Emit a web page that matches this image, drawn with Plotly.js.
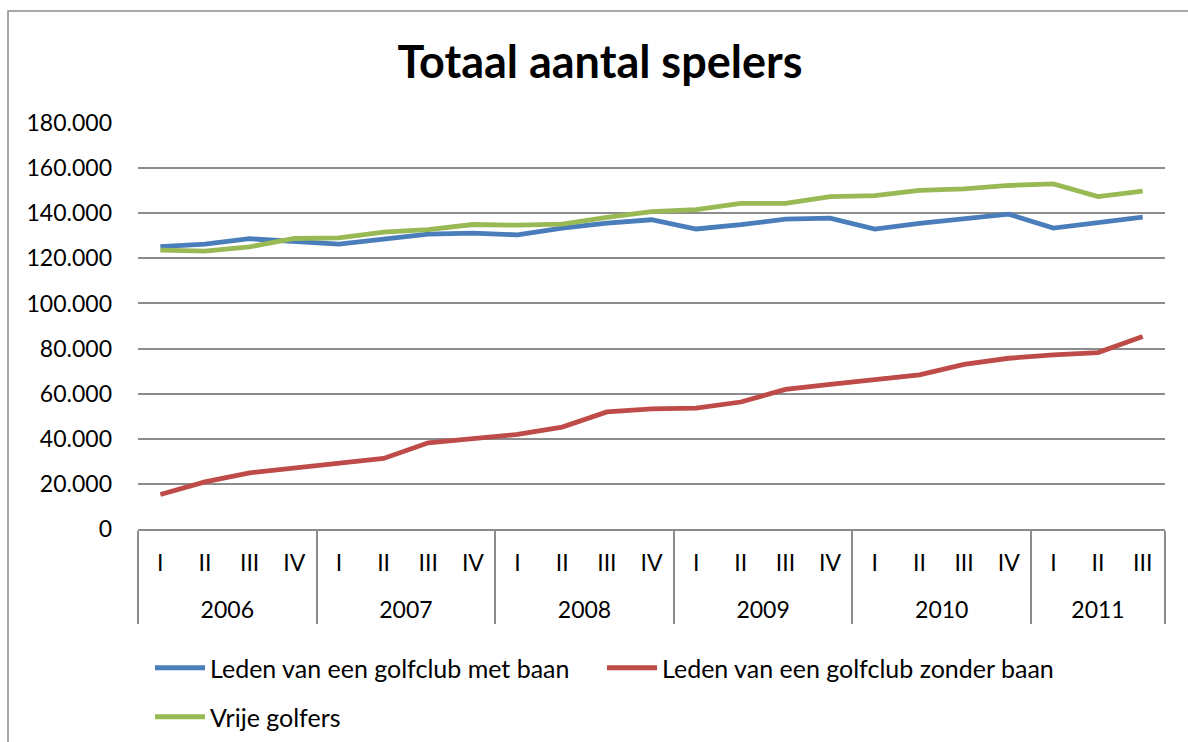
<!DOCTYPE html>
<html>
<head>
<meta charset="utf-8">
<script src="https://cdn.plot.ly/plotly-3.0.1.min.js"></script>
<style>
  html, body { margin: 0; padding: 0; background: #fff; }
  #chart { width: 1188px; height: 742px; }
</style>
</head>
<body>
<div id="chart"></div>
<script>
const years = ['2006','2006','2006','2006','2007','2007','2007','2007','2008','2008','2008','2008',
               '2009','2009','2009','2009','2010','2010','2010','2010','2011','2011','2011'];
const quarters = ['I','II','III','IV','I','II','III','IV','I','II','III','IV',
                  'I','II','III','IV','I','II','III','IV','I','II','III'];

const metBaan = [125200, 126300, 128700, 127300, 126300, 128500, 130700, 131200, 130400, 133400, 135600, 137100,
                 133000, 134900, 137400, 137800, 133000, 135500, 137800, 139600, 133400, 135600, 138300];
const zonderBaan = [15300, 20900, 24900, 27100, 29000, 31300, 38200, 40000, 41900, 45200, 51900, 53300,
                    53600, 56300, 61900, 64100, 66400, 68300, 73000, 75700, 77200, 78200, 85300];
const vrijeGolfers = [123600, 123200, 125100, 128800, 129100, 131600, 132700, 135000, 134700, 135200, 138200, 140700,
                      141600, 144400, 144400, 147400, 147800, 150100, 150800, 152300, 153000, 147400, 149800];

const seriesNames = ['Leden van een golfclub met baan', 'Leden van een golfclub zonder baan', 'Vrije golfers'];
const seriesColors = ['#4A7EBB', '#BE4B48', '#98B954'];

const FONT = 'Lato, "Liberation Sans", sans-serif';
const W = 1188, H = 742;
const M = {l: 138, r: 23, t: 123, b: 213};

function px2paperX(px) { return (px - M.l) / (W - M.l - M.r); }
function px2paperY(py) { return (H - M.b - py) / (H - M.t - M.b); }

// year group labels: a leading blank line gives the gap between the two label rows
const yearLabels = years.map(y => '<br>' + y);
const xCats = [yearLabels, quarters];
const legendIds = ['legend', 'legend3', 'legend2'];

const data = [metBaan, zonderBaan, vrijeGolfers].map((vals, i) => ({
  type: 'scatter', mode: 'lines',
  x: xCats, y: vals,
  name: seriesNames[i],
  legend: legendIds[i],
  line: {color: seriesColors[i], width: 4.8},
  hoverinfo: 'x+y+name'
}));

function legendAt(xpx, ypx) {
  return {
    orientation: 'h',
    x: px2paperX(xpx), xanchor: 'left',
    y: 1 - ypx / H, yanchor: 'middle', yref: 'container',
    itemwidth: 50,
    font: {family: FONT, size: 25, color: '#000000'},
    bgcolor: 'rgba(0,0,0,0)'
  };
}

const layout = {
  width: W, height: H,
  margin: M,
  paper_bgcolor: '#ffffff',
  plot_bgcolor: '#ffffff',
  separators: ',.',
  font: {family: FONT, size: 23, color: '#000000'},
  title: {
    text: '<b>Totaal aantal spelers</b>',
    font: {family: FONT, size: 45, color: '#000000'},
    x: 0.505, xanchor: 'center',
    y: 1 - 62 / H, yanchor: 'middle', yref: 'container'
  },
  xaxis: {
    type: 'multicategory',
    range: [-0.5, quarters.length - 0.5],
    showgrid: false,
    showline: true, linecolor: '#8c8c8c', linewidth: 1.5,
    ticks: '',
    ticklabelstandoff: 13,
    showdividers: true, dividercolor: '#8c8c8c', dividerwidth: 1.5,
    tickfont: {family: FONT, size: 23, color: '#000000'},
    zeroline: false
  },
  yaxis: {
    range: [0, 180000],
    tickvals: [0, 20000, 40000, 60000, 80000, 100000, 120000, 140000, 160000, 180000],
    tickformat: ',d',
    showgrid: true, gridcolor: '#8c8c8c', gridwidth: 1.5,
    zeroline: false, showline: false,
    ticks: '',
    ticklabelstandoff: 25,
    tickfont: {family: FONT, size: 23, color: '#000000'}
  },
  showlegend: true,
  legend: legendAt(150, 668),
  legend3: legendAt(602, 668),
  legend2: legendAt(150, 717),
  shapes: [{
    type: 'rect', xref: 'paper', yref: 'paper',
    x0: px2paperX(8), x1: px2paperX(W + 20),
    y0: px2paperY(H + 20), y1: px2paperY(11),
    line: {color: '#8c8c8c', width: 1.5},
    fillcolor: 'rgba(0,0,0,0)',
    layer: 'below'
  }]
};

Plotly.newPlot('chart', data, layout, {displayModeBar: false, responsive: false});
</script>
</body>
</html>
